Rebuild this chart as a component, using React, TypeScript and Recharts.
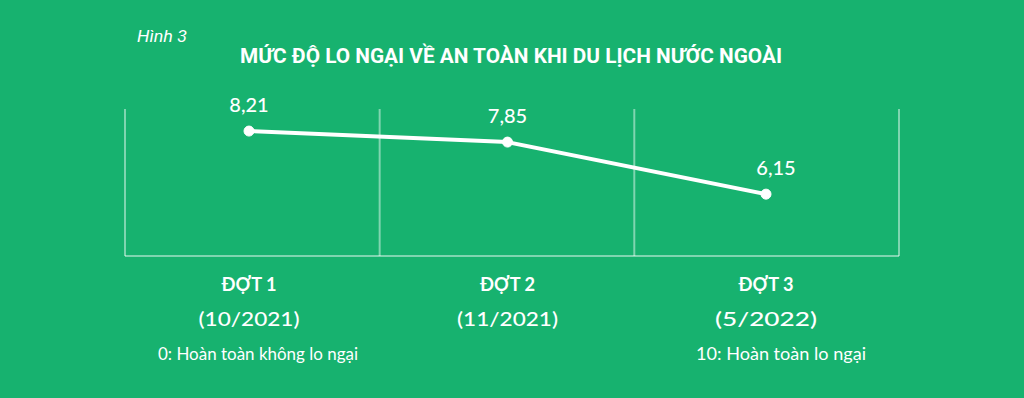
import React from 'react'
import { LineChart, Line, XAxis, YAxis, CartesianGrid, LabelList } from 'recharts'

// Survey rounds and the average concern score (0-10)
const rounds = ['ĐỢT 1', 'ĐỢT 2', 'ĐỢT 3']
const periods = ['(10/2021)', '(11/2021)', '(5/2022)']
const concern = [8.21, 7.85, 6.15]

const BG = '#17b26f'
const GRID = 'rgba(255,255,255,0.45)'

const chartData = rounds.map((round, i) => ({
  round,
  period: periods[i],
  value: concern[i],
}))

// Two-line category tick: round name + period
const RoundTick = ({ x, y, payload, index }: any) => (
  <g>
    <text
      x={x}
      y={y + 27}
      textAnchor="middle"
      fill="#fff"
      fontFamily="Lato, sans-serif"
      fontWeight={700}
      fontSize={19}
      textLength={55}
      lengthAdjust="spacingAndGlyphs"
    >
      {payload.value}
    </text>
    <text
      x={x}
      y={y + 62}
      textAnchor="middle"
      fill="#fff"
      fontFamily="Lato, sans-serif"
      fontWeight={500}
      fontSize={20}
      textLength={index === 2 ? 102 : 101}
      lengthAdjust="spacingAndGlyphs"
    >
      {periods[index]}
    </text>
  </g>
)

const ValueLabel = ({ x, y, value, index }: any) => (
  <text
    x={x + (index === 2 ? 10 : 0)}
    y={y - 19}
    textAnchor="middle"
    fill="#fff"
    fontFamily="Lato, sans-serif"
    fontWeight={500}
    fontSize={20}
  >
    {String(value).replace('.', ',')}
  </text>
)

export default function App() {
  return (
    <div style={{ position: 'relative', width: 1024, height: 398, background: BG, overflow: 'hidden' }}>
      <style>{'body{margin:0}'}</style>
      <svg width={1024} height={398} style={{ position: 'absolute', left: 0, top: 0 }}>
        <text
          x={137}
          y={42}
          fill="#fff"
          fontFamily="Roboto, sans-serif"
          fontStyle="italic"
          fontSize={17}
          textLength={50}
          lengthAdjust="spacingAndGlyphs"
        >
          Hình 3
        </text>
        <text
          x={511}
          y={63}
          textAnchor="middle"
          fill="#fff"
          fontFamily="Roboto, sans-serif"
          fontWeight={700}
          fontSize={20}
          textLength={542}
          lengthAdjust="spacingAndGlyphs"
        >
          MỨC ĐỘ LO NGẠI VỀ AN TOÀN KHI DU LỊCH NƯỚC NGOÀI
        </text>
        <text
          x={158}
          y={360}
          fill="#fff"
          fontFamily="Lato, sans-serif"
          fontSize={17}
          textLength={200}
          lengthAdjust="spacingAndGlyphs"
        >
          0: Hoàn toàn không lo ngại
        </text>
        <text
          x={696}
          y={360}
          fill="#fff"
          fontFamily="Lato, sans-serif"
          fontSize={17}
          textLength={170}
          lengthAdjust="spacingAndGlyphs"
        >
          10: Hoàn toàn lo ngại
        </text>
      </svg>
      <div style={{ position: 'absolute', left: 0, top: 0 }}>
        <LineChart
          width={1024}
          height={398}
          data={chartData}
          margin={{ top: 109, right: 125, left: 125, bottom: 0 }}
        >
          <CartesianGrid
            horizontal={false}
            stroke={GRID}
            strokeWidth={2}
            verticalCoordinatesGenerator={({ offset }: any) =>
              [0, 0.329, 0.658, 1].map((f) => offset.left + f * offset.width)
            }
          />
          <XAxis
            dataKey="round"
            scale="point"
            padding={{ left: 124, right: 133 }}
            height={142}
            axisLine={{ stroke: GRID, strokeWidth: 2 }}
            tickLine={false}
            tick={<RoundTick />}
            interval={0}
          />
          <YAxis hide domain={[4.13, 8.93]} />
          <Line
            type="linear"
            dataKey="value"
            stroke="#fff"
            strokeWidth={4}
            dot={{ r: 5, fill: '#fff', stroke: '#fff', strokeWidth: 1 }}
            isAnimationActive={false}
          >
            <LabelList dataKey="value" content={<ValueLabel />} />
          </Line>
        </LineChart>
      </div>
    </div>
  )
}
